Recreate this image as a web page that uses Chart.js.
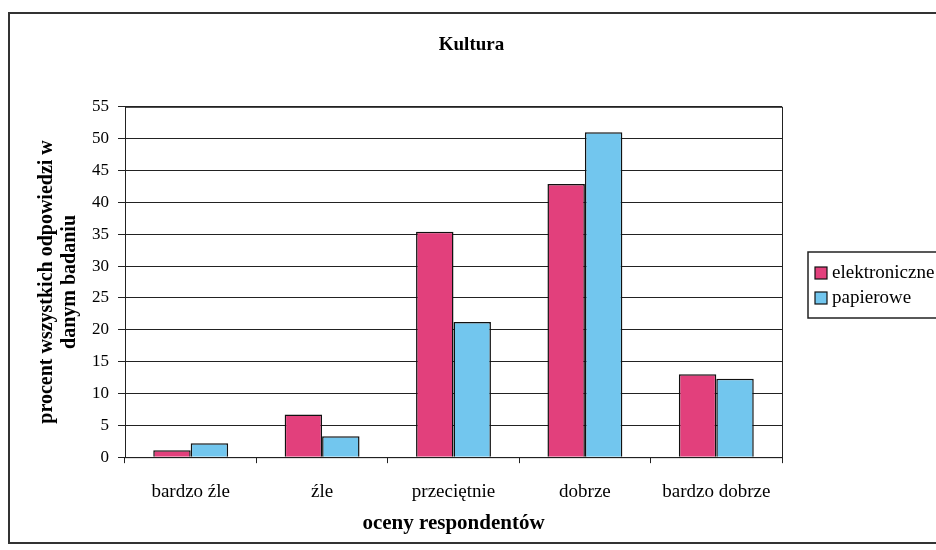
<!DOCTYPE html>
<html lang="pl">
<head>
    <meta charset="UTF-8">
    <title>Kultura</title>
    <script src="https://cdn.jsdelivr.net/npm/chart.js"></script>
    <style>
        body {
            margin: 0;
            background: #ffffff;
        }
        .frame {
            position: absolute;
            left: 8px;
            top: 12px;
            width: 940px;
            height: 532px;
            border: 2px solid #333;
            box-sizing: border-box;
        }
        .chart-box {
            position: absolute;
            left: 10px;
            top: 14px;
            width: 926px;
            height: 528px;
        }
    </style>
</head>
<body>
    <div class="frame"></div>
    <div class="chart-box">
        <canvas id="barChart"></canvas>
    </div>

    <script>
        // dane
        const kategorie = ['bardzo źle', 'źle', 'przeciętnie', 'dobrze', 'bardzo dobrze'];
        const elektroniczne = [1.1, 6.7, 35.4, 42.9, 13.0];
        const papierowe = [2.2, 3.3, 21.2, 51.0, 12.3];

        const serif = 'Liberation Serif, Times New Roman, serif';

        // ramka obszaru wykresu + legenda w ramce po prawej
        const ramki = {
            id: 'ramki',
            afterDraw(chart) {
                const ctx = chart.ctx;
                const a = chart.chartArea;
                ctx.save();
                ctx.strokeStyle = '#222';
                ctx.lineWidth = 1;
                ctx.strokeRect(a.left + 0.5, a.top + 0.5, a.right - a.left, a.bottom - a.top);

                // legenda
                const lx = a.right + 26;
                const ly = 238;
                ctx.lineWidth = 1.5;
                ctx.strokeRect(lx, ly, 200, 66);
                ctx.font = '19px ' + serif;
                ctx.textBaseline = 'middle';
                chart.data.datasets.forEach((ds, i) => {
                    const y = ly + 21 + i * 25;
                    ctx.fillStyle = ds.backgroundColor;
                    ctx.fillRect(lx + 7, y - 6, 12, 12);
                    ctx.strokeStyle = '#111';
                    ctx.lineWidth = 1.2;
                    ctx.strokeRect(lx + 7, y - 6, 12, 12);
                    ctx.fillStyle = '#000';
                    ctx.fillText(ds.label, lx + 24, y);
                });
                ctx.restore();
            }
        };

        new Chart(document.getElementById('barChart'), {
            type: 'bar',
            data: {
                labels: kategorie,
                datasets: [{
                    label: 'elektroniczne',
                    data: elektroniczne,
                    backgroundColor: '#e2407c',
                    borderColor: '#111',
                    borderWidth: 1.5
                }, {
                    label: 'papierowe',
                    data: papierowe,
                    backgroundColor: '#72c6ee',
                    borderColor: '#111',
                    borderWidth: 1.5
                }]
            },
            options: {
                responsive: true,
                maintainAspectRatio: false,
                animation: false,
                categoryPercentage: 0.57,
                barPercentage: 1.0,
                layout: {
                    padding: { top: 12, right: 24, bottom: 4, left: 21 }
                },
                plugins: {
                    title: {
                        display: true,
                        text: 'Kultura',
                        color: '#000',
                        font: { family: serif, size: 19, weight: 'bold' },
                        padding: { top: 8, bottom: 50 }
                    },
                    legend: { display: false },
                    tooltip: { enabled: false }
                },
                scales: {
                    x: {
                        grid: {
                            offset: true,
                            drawOnChartArea: false,
                            color: '#222',
                            tickLength: 6
                        },
                        border: { color: '#222' },
                        ticks: {
                            color: '#000',
                            font: { family: serif, size: 19, lineHeight: 1 },
                            padding: 19
                        },
                        title: {
                            display: true,
                            text: 'oceny respondentów',
                            color: '#000',
                            font: { family: serif, size: 21, weight: 'bold', lineHeight: 0.85 },
                            padding: { top: -5, bottom: 5 }
                        }
                    },
                    y: {
                        min: 0,
                        max: 55,
                        ticks: {
                            stepSize: 5,
                            color: '#000',
                            font: { family: serif, size: 17 },
                            padding: 9
                        },
                        grid: {
                            color: '#222',
                            tickLength: 7
                        },
                        border: { color: '#222' },
                        title: {
                            display: true,
                            text: ['procent wszystkich odpowiedzi w', 'danym badaniu'],
                            color: '#000',
                            font: { family: serif, size: 20, weight: 'bold', lineHeight: 1.15 },
                            padding: { bottom: 2 }
                        }
                    },
                    // pusta oś po prawej - miejsce na legendę
                    prawa: {
                        type: 'linear',
                        position: 'right',
                        display: true,
                        grid: { display: false },
                        border: { display: false },
                        ticks: { display: false },
                        afterFit(scale) {
                            scale.width = 130;
                        }
                    }
                }
            },
            plugins: [ramki]
        });
    </script>
</body>
</html>
